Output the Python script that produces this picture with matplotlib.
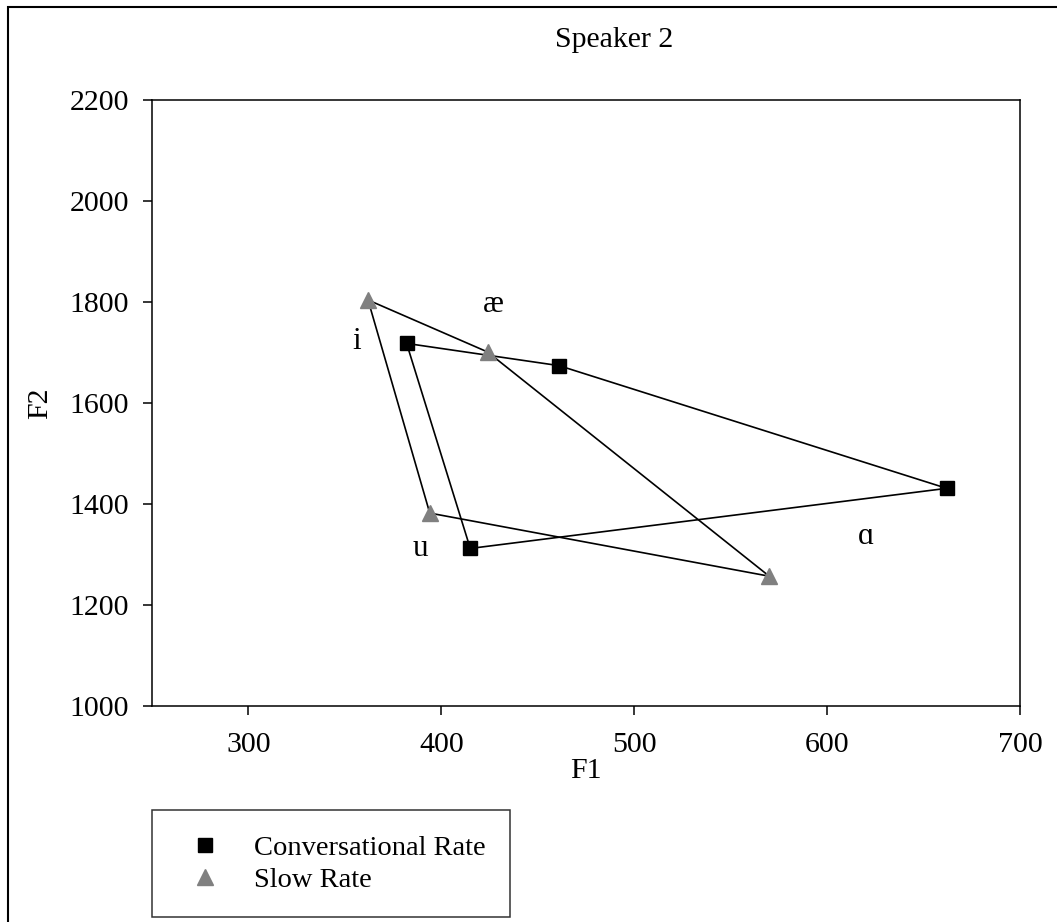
import matplotlib
matplotlib.use("Agg")
import matplotlib.pyplot as plt
from matplotlib.patches import Rectangle

# vowel order around each polygon: i, ae, a, u
vowels = ["i", "æ", "ɑ", "u"]
conv_f1 = [382, 461, 662, 415]
conv_f2 = [1718, 1674, 1431, 1312]
slow_f1 = [362, 424, 570, 394]
slow_f2 = [1804, 1701, 1257, 1382]

label_f1 = [356, 427, 620, 389]
label_f2 = [1721, 1796, 1335, 1311]

x_ticks = [300, 400, 500, 600, 700]
y_ticks = [1000, 1200, 1400, 1600, 1800, 2000, 2200]

plt.rcParams["font.family"] = ["Liberation Serif", "DejaVu Serif"]
FS = 21.5

fig = plt.figure(figsize=(10.57, 9.22), dpi=100)
ax = fig.add_axes([152 / 1057, 1 - 706 / 922, (1020 - 152) / 1057, (706 - 100) / 922])

# closed polygons
ax.plot(conv_f1 + conv_f1[:1], conv_f2 + conv_f2[:1], color="black", lw=1.2, zorder=2)
ax.plot(slow_f1 + slow_f1[:1], slow_f2 + slow_f2[:1], color="black", lw=1.2, zorder=2)

ax.plot(conv_f1, conv_f2, ls="none", marker="s", ms=10, color="black",
        label="Conversational Rate", zorder=3)
ax.plot(slow_f1, slow_f2, ls="none", marker="^", ms=11, color="#808080",
        label="Slow Rate", zorder=3)

for v, x, y in zip(vowels, label_f1, label_f2):
    ax.text(x, y, v, fontsize=FS + 1, ha="center", va="center")

ax.set_xlim(250, 700)
ax.set_ylim(1000, 2200)
ax.set_xticks(x_ticks)
ax.set_yticks(y_ticks)
ax.tick_params(direction="out", length=6.5, width=1.1, labelsize=FS)
ax.tick_params(axis="y", pad=10)
ax.tick_params(axis="x", pad=12)
for s in ax.spines.values():
    s.set_linewidth(1.1)

ax.set_xlabel("F1", fontsize=FS, labelpad=0)
ax.set_ylabel("F2", fontsize=FS, labelpad=12)

fig.text(614 / 1057, 1 - 40 / 922, "Speaker 2", fontsize=FS, ha="center", va="center")

leg = ax.legend(loc="lower left", bbox_to_anchor=(152 / 1057, 1 - 917 / 922),
                bbox_transform=fig.transFigure, fontsize=20.5, frameon=True,
                fancybox=False, edgecolor="black", borderpad=0.85,
                handlelength=2.0, handletextpad=0.75, labelspacing=0.22,
                borderaxespad=0)
leg.get_frame().set_linewidth(1.1)

# outer chart frame (only left and top edges fall inside the image)
fig.patches.append(Rectangle((8 / 1057, -0.1), 1.2, 1.1 - 7 / 922,
                             transform=fig.transFigure, fill=False,
                             edgecolor="black", lw=1.5))

fig.savefig("out.png", dpi=100)
